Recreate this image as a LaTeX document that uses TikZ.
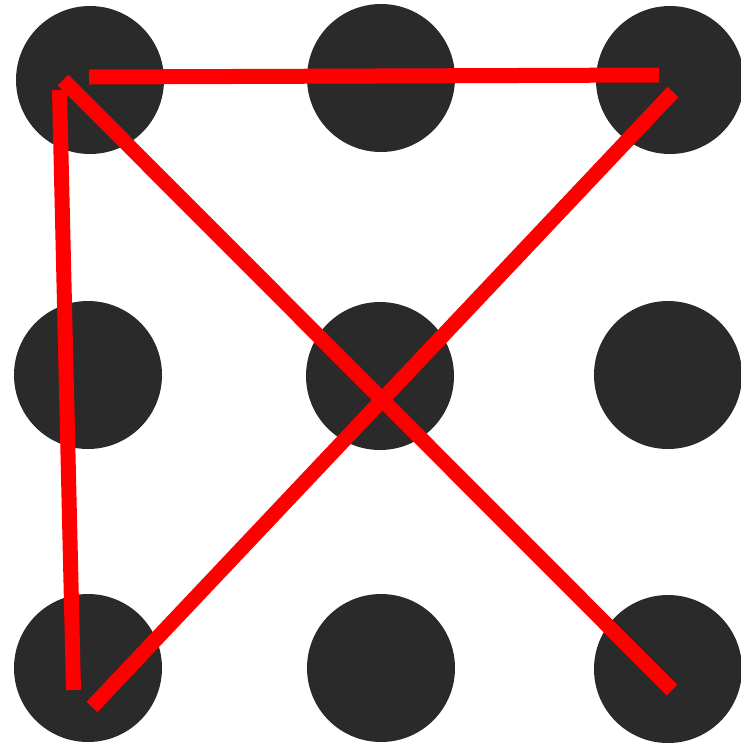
\documentclass[tikz,border=0pt]{standalone}
\begin{document}
\begin{tikzpicture}[x=1pt,y=-1pt,
  dot/.style={circle,fill=dotgray,draw=none,minimum size=148pt,inner sep=0pt},
  redline/.style={draw=red,line width=15pt,line cap=butt}]
\definecolor{dotgray}{HTML}{2A2A2A}
\useasboundingbox[fill=white] (0,0) rectangle (740,748);
% dots
\node[dot] (d11) at (90,80) {};
\node[dot] (d12) at (381,78) {};
\node[dot] (d13) at (670,80) {};
\node[dot] (d21) at (88,375) {};
\node[dot] (d22) at (380,376) {};
\node[dot] (d23) at (668,375) {};
\node[dot] (d31) at (88,668) {};
\node[dot] (d32) at (381,668) {};
\node[dot] (d33) at (668,669) {};
% line end points
\coordinate (hA) at (89,77);
\coordinate (hB) at (659,75);
\coordinate (vA) at (59.5,90);
\coordinate (vB) at (73.5,690);
\coordinate (dA) at (63,80);
\coordinate (dB) at (672,690);
\coordinate (eA) at (673,92);
\coordinate (eB) at (92,707);
\draw[redline] (hA) -- (hB);
\draw[redline] (vA) -- (vB);
\draw[redline] (dA) -- (dB);
\draw[redline] (eA) -- (eB);
\end{tikzpicture}
\end{document}
